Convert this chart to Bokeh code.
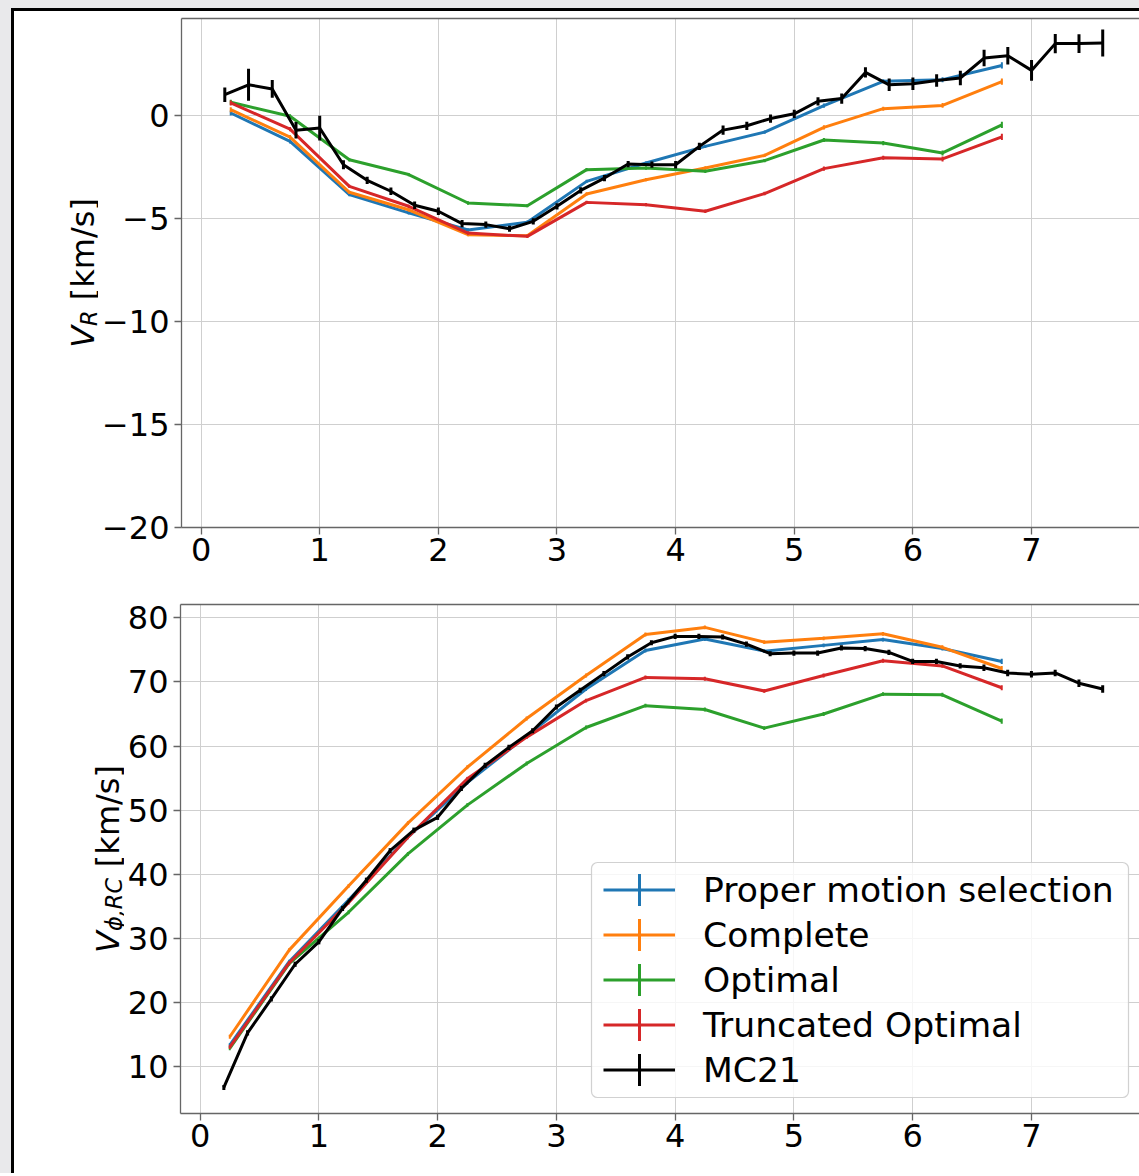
from bokeh.plotting import figure
from bokeh.models import (Range1d, FixedTicker, LinearAxis, Label, Legend,
                          LegendItem, BoxAnnotation)
from bokeh.layouts import column, row
from bokeh.embed import file_html
from bokeh.resources import INLINE
import math

# ---------------- data ----------------
R_BINS = [0.25, 0.75, 1.25, 1.75, 2.25, 2.75, 3.25, 3.75, 4.25, 4.75, 5.25, 5.75, 6.25, 6.75]
R_MC21 = [0.2, 0.4, 0.6, 0.8, 1.0, 1.2, 1.4, 1.6, 1.8, 2.0, 2.2, 2.4, 2.6, 2.8, 3.0, 3.2, 3.4,
          3.6, 3.8, 4.0, 4.2, 4.4, 4.6, 4.8, 5.0, 5.2, 5.4, 5.6, 5.8, 6.0, 6.2, 6.4, 6.6, 6.8,
          7.0, 7.2, 7.4, 7.6]

LABELS = ["Proper motion selection", "Complete", "Optimal", "Truncated Optimal", "MC21"]
COLORS = ["#1f77b4", "#ff7f0e", "#2ca02c", "#d62728", "#000000"]

# radial velocity V_R [km/s]
VR_PM = [0.13, -1.25, -3.83, -4.72, -5.55, -5.17, -3.19, -2.30, -1.49, -0.80, 0.49, 1.67, 1.75, 2.44]
VR_COMPLETE = [0.29, -1.04, -3.72, -4.57, -5.78, -5.83, -3.80, -3.11, -2.54, -1.93, -0.57, 0.34, 0.50, 1.65]
VR_OPTIMAL = [0.65, -0.03, -2.14, -2.86, -4.24, -4.37, -2.62, -2.54, -2.70, -2.18, -1.18, -1.33, -1.81, -0.45]
VR_TRUNC = [0.62, -0.65, -3.43, -4.40, -5.70, -5.86, -4.21, -4.32, -4.64, -3.78, -2.57, -2.04, -2.10, -1.03]
VR_BIN_ERR = [0.12, 0.10, 0.08, 0.08, 0.08, 0.08, 0.08, 0.08, 0.08, 0.08, 0.10, 0.10, 0.12, 0.15]
VR_MC21 = [1.02, 1.50, 1.30, -0.71, -0.60, -2.38, -3.14, -3.67, -4.35, -4.64, -5.24, -5.29, -5.49,
           -5.13, -4.40, -3.63, -3.03, -2.35, -2.38, -2.38, -1.49, -0.70, -0.49, -0.14, 0.09, 0.70,
           0.83, 2.10, 1.50, 1.55, 1.71, 1.83, 2.80, 2.91, 2.20, 3.50, 3.50, 3.53]
VR_MC21_ERR = [0.35, 0.78, 0.43, 0.40, 0.60, 0.22, 0.18, 0.18, 0.18, 0.18, 0.18, 0.15, 0.15, 0.15,
               0.15, 0.15, 0.15, 0.15, 0.15, 0.18, 0.18, 0.22, 0.20, 0.20, 0.20, 0.20, 0.25, 0.25,
               0.30, 0.30, 0.30, 0.35, 0.40, 0.42, 0.50, 0.47, 0.45, 0.66]

# rotation curve V_phi,RC [km/s]
VPHI_PM = [13.4, 26.4, 36.0, 45.8, 54.3, 61.6, 68.9, 74.9, 76.7, 74.8, 75.7, 76.6, 75.2, 73.2]
VPHI_COMPLETE = [14.7, 28.2, 38.2, 48.0, 56.7, 64.3, 71.0, 77.4, 78.5, 76.2, 76.8, 77.5, 75.4, 72.1]
VPHI_OPTIMAL = [12.9, 26.1, 34.1, 43.2, 50.8, 57.3, 62.9, 66.3, 65.7, 62.8, 65.0, 68.1, 68.0, 63.9]
VPHI_TRUNC = [13.1, 26.2, 35.6, 45.8, 54.9, 61.4, 67.1, 70.7, 70.5, 68.6, 71.0, 73.3, 72.5, 69.1]
VPHI_BIN_ERR = [0.3, 0.3, 0.3, 0.3, 0.3, 0.3, 0.3, 0.3, 0.3, 0.3, 0.3, 0.3, 0.3, 0.4]
VPHI_MC21 = [6.8, 15.3, 20.6, 26.0, 29.5, 34.7, 39.1, 43.7, 46.9, 48.9, 53.4, 57.0, 59.8, 62.4,
             66.1, 68.7, 71.3, 73.9, 76.1, 77.1, 77.1, 77.0, 75.9, 74.4, 74.5, 74.5, 75.3, 75.2,
             74.6, 73.2, 73.2, 72.5, 72.2, 71.4, 71.2, 71.4, 69.8, 68.9]
VPHI_MC21_ERR = [0.4, 0.4, 0.4, 0.4, 0.4, 0.4, 0.4, 0.4, 0.4, 0.4, 0.4, 0.4, 0.4, 0.4, 0.4, 0.4,
                 0.4, 0.4, 0.4, 0.4, 0.4, 0.4, 0.4, 0.4, 0.4, 0.4, 0.4, 0.4, 0.4, 0.4, 0.4, 0.4,
                 0.5, 0.5, 0.5, 0.5, 0.6, 0.6]

X_TICKS = [0, 1, 2, 3, 4, 5, 6, 7]
VR_TICKS = [-20, -15, -10, -5, 0]
VPHI_TICKS = [10, 20, 30, 40, 50, 60, 70, 80]

# ---------------- style ----------------
FONT = "DejaVu Sans"
TICK_SIZE = "32px"
SPINE = "#666666"
GRID = "#cfcfcf"
TOTAL_W = 1125          # content width (page x 14 .. 1139)
PAGE_X0 = 14            # page x where content starts
FRAME_LEFT_PAGE = 180   # page x of the plot frame's left edge


def main_figure(lab_w, height, yr, top_border, bottom_border):
    p = figure(width=TOTAL_W - lab_w, height=height, x_range=Range1d(-0.165, 7.91),
               y_range=Range1d(*yr), output_backend="svg", toolbar_location=None,
               min_border_left=FRAME_LEFT_PAGE - PAGE_X0 - lab_w, min_border_right=0,
               min_border_top=top_border, min_border_bottom=bottom_border)
    p.outline_line_color = None
    p.background_fill_color = "white"
    p.border_fill_color = "white"
    for ax in (p.xaxis[0], p.yaxis[0]):
        ax.axis_line_color = SPINE
        ax.axis_line_width = 1.3
        ax.major_tick_line_color = SPINE
        ax.major_tick_line_width = 1.3
        ax.major_tick_out = 7
        ax.major_tick_in = 0
        ax.minor_tick_line_color = None
        ax.major_label_text_font = FONT
        ax.major_label_text_font_size = TICK_SIZE
        ax.major_label_text_color = "black"
    p.xaxis.major_label_standoff = 3
    p.yaxis.major_label_standoff = 5
    p.xaxis.ticker = FixedTicker(ticks=X_TICKS)
    p.xgrid.ticker = FixedTicker(ticks=X_TICKS)
    p.grid.grid_line_color = GRID
    p.grid.grid_line_width = 1
    top = LinearAxis(ticker=FixedTicker(ticks=[]), axis_line_color=SPINE, axis_line_width=1.3,
                     major_tick_line_color=None, minor_tick_line_color=None,
                     major_label_text_font_size="0px", major_tick_out=0, major_tick_in=0,
                     major_label_standoff=0)
    p.add_layout(top, "above")
    return p


def label_figure(lab_w, height, top_border, bottom_border):
    f = figure(width=lab_w, height=height, x_range=Range1d(0, 1), y_range=Range1d(0, 1),
               output_backend="svg", toolbar_location=None,
               min_border_left=0, min_border_right=0,
               min_border_top=top_border, min_border_bottom=bottom_border,
               x_axis_location=None, y_axis_location=None)
    f.outline_line_color = None
    f.grid.visible = False
    f.background_fill_color = "white"
    f.border_fill_color = "white"
    return f


def vlabel(f, frame_bottom_page, baseline_page, center_page, parts, gap):
    """Rotated y label built from parts: (text, size, style, shift_px, advance_px)."""
    total = sum(w for (_, _, _, _, w) in parts) + gap
    pos = center_page + total / 2.0
    for i, (txt, size, style, shift, w) in enumerate(parts):
        if i == len(parts) - 1:
            pos -= gap
        f.add_layout(Label(x=baseline_page + shift - PAGE_X0, y=frame_bottom_page - pos,
                           x_units="screen", y_units="screen", angle=math.pi / 2,
                           text=txt, text_font=FONT, text_font_size="%.1fpx" % size,
                           text_font_style=style, text_color="black",
                           text_align="left", text_baseline="alphabetic"))
        pos -= w


F = 32.0

# ---------------- top panel: V_R ----------------
LAB1_W = 84
TOP_H = 564
TOP_BT, TOP_BB = 7, 48
p1 = main_figure(LAB1_W, TOP_H, (-20, 4.72), TOP_BT, TOP_BB)
p1.yaxis.ticker = FixedTicker(ticks=VR_TICKS)
p1.ygrid.ticker = FixedTicker(ticks=VR_TICKS)
p1.yaxis.major_label_overrides = {t: ("\u2212%d" % -t if t < 0 else "%d" % t) for t in VR_TICKS}

for vals, col in zip([VR_PM, VR_COMPLETE, VR_OPTIMAL, VR_TRUNC], COLORS[:4]):
    p1.line(R_BINS, vals, line_color=col, line_width=3)
    p1.segment(R_BINS, [v - e for v, e in zip(vals, VR_BIN_ERR)],
               R_BINS, [v + e for v, e in zip(vals, VR_BIN_ERR)], line_color=col, line_width=2)
p1.line(R_MC21, VR_MC21, line_color="black", line_width=3)
p1.segment(R_MC21, [v - e for v, e in zip(VR_MC21, VR_MC21_ERR)],
           R_MC21, [v + e for v, e in zip(VR_MC21, VR_MC21_ERR)], line_color="black", line_width=3)

l1 = label_figure(LAB1_W, TOP_H, TOP_BT, TOP_BB)
vlabel(l1, 11 + TOP_H - TOP_BB, 82.0, 272.5,
       [("V", F, "italic", 0, 0.684 * F),
        ("R", 0.7 * F, "italic", 6, 0.695 * 0.7 * F),
        ("[km/s]", F, "normal", 0, 3.19 * F)],
       gap=0.318 * F)

# ---------------- bottom panel: V_phi,RC ----------------
LAB2_W = 110
BOT_H = 598
BOT_BT, BOT_BB = 29, 60
p2 = main_figure(LAB2_W, BOT_H, (2.74, 82.07), BOT_BT, BOT_BB)
p2.yaxis.ticker = FixedTicker(ticks=VPHI_TICKS)
p2.ygrid.ticker = FixedTicker(ticks=VPHI_TICKS)

items = []
for vals, col, lab in zip([VPHI_PM, VPHI_COMPLETE, VPHI_OPTIMAL, VPHI_TRUNC], COLORS[:4], LABELS[:4]):
    ln = p2.line(R_BINS, vals, line_color=col, line_width=3)
    p2.segment(R_BINS, [v - e for v, e in zip(vals, VPHI_BIN_ERR)],
               R_BINS, [v + e for v, e in zip(vals, VPHI_BIN_ERR)], line_color=col, line_width=2)
    items.append(LegendItem(label=lab, renderers=[ln]))
ln = p2.line(R_MC21, VPHI_MC21, line_color="black", line_width=3)
p2.segment(R_MC21, [v - e for v, e in zip(VPHI_MC21, VPHI_MC21_ERR)],
           R_MC21, [v + e for v, e in zip(VPHI_MC21, VPHI_MC21_ERR)], line_color="black", line_width=3)
items.append(LegendItem(label=LABELS[4], renderers=[ln]))

l2 = label_figure(LAB2_W, BOT_H, BOT_BT, BOT_BB)
vlabel(l2, 11 + TOP_H + BOT_H - BOT_BB, 107.0, 858.5,
       [("V", F, "italic", 0, 0.684 * F),
        ("\u03d5,RC", 0.7 * F, "italic", 6, 2.40 * 0.7 * F),
        ("[km/s]", F, "normal", 0, 3.19 * F)],
       gap=0.318 * F)

# legend frame and entries (screen px relative to the plot frame's bottom-left)
LEG_LEFT, LEG_RIGHT, LEG_BOTTOM, LEG_TOP = 411, 948, 16, 251
LEG_PAD, ROW_H = 5, 45
p2.add_layout(BoxAnnotation(left=LEG_LEFT, right=LEG_RIGHT, bottom=LEG_BOTTOM, top=LEG_TOP,
                            left_units="screen", right_units="screen",
                            bottom_units="screen", top_units="screen",
                            fill_color="white", fill_alpha=0.8,
                            line_color="#cccccc", line_alpha=0.9, line_width=1.2,
                            border_radius=6))
GLYPH_X0 = 423
for i, col in enumerate(COLORS):
    cy = LEG_TOP - LEG_PAD - ROW_H / 2.0 - i * ROW_H
    p2.add_layout(BoxAnnotation(left=GLYPH_X0 + 36 - 1.5, right=GLYPH_X0 + 36 + 1.5,
                                bottom=cy - 16, top=cy + 16,
                                left_units="screen", right_units="screen",
                                bottom_units="screen", top_units="screen",
                                fill_color=col, fill_alpha=1.0, line_color=None))
legend = Legend(items=items, location=(GLYPH_X0 - LEG_PAD, LEG_BOTTOM), orientation="vertical",
                glyph_width=72, glyph_height=ROW_H, spacing=0, padding=LEG_PAD, margin=0,
                label_standoff=28, label_text_font=FONT, label_text_font_size="34.6px",
                label_text_color="black",
                background_fill_alpha=0.0, border_line_alpha=0.0)
p2.add_layout(legend)

inner = column(row(l1, p1), row(l2, p2),
               styles={"border-left": "3px solid black", "border-top": "3px solid black",
                       "background-color": "white"})
outer = column(inner, styles={"background-color": "#e9e9eb", "padding-left": "11px",
                              "padding-top": "8px"})

open("out.html", "w").write(file_html(outer, INLINE))
